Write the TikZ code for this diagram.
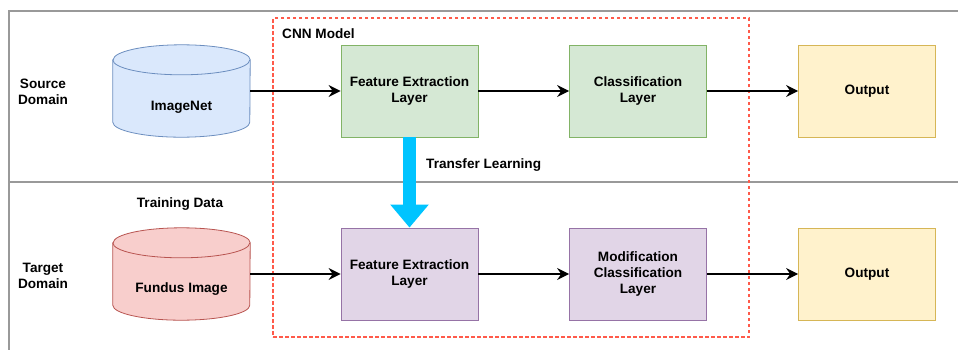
\documentclass[tikz,border=0pt]{standalone}
\usepackage{fontspec}
\setmainfont{Liberation Sans}
\usetikzlibrary{arrows.meta,calc}

\definecolor{blueF}{HTML}{DAE8FC}\definecolor{blueD}{HTML}{6C8EBF}
\definecolor{redF}{HTML}{F8CECC}\definecolor{redD}{HTML}{B85450}
\definecolor{greenF}{HTML}{D5E8D4}\definecolor{greenD}{HTML}{82B366}
\definecolor{purpleF}{HTML}{E1D5E7}\definecolor{purpleD}{HTML}{9673A6}
\definecolor{yellowF}{HTML}{FFF2CC}\definecolor{yellowD}{HTML}{D6B656}
\definecolor{laneD}{HTML}{999999}
\definecolor{cnnD}{HTML}{FF5A4A}
\definecolor{transfer}{HTML}{00C4FF}

% database drawn inside the rectangle of a named node
\newcommand\dbshape[3]{%
  \filldraw[fill=#2,draw=#3,line width=0.8pt]
    ($(#1.north west)+(0,15)$) -- ($(#1.south west)+(0,-15)$)
    arc[start angle=180,end angle=360,x radius=68.5pt,y radius=15pt]
    -- ($(#1.north east)+(0,15)$)
    arc[start angle=0,end angle=180,x radius=68.5pt,y radius=15pt] -- cycle;
  \draw[#3,line width=0.8pt] ($(#1.north west)+(0,15)$)
    arc[start angle=180,end angle=360,x radius=68.5pt,y radius=15pt];
}

\begin{document}
\begin{tikzpicture}[x=1pt,y=-1pt,
  font=\fontsize{13.6}{16}\selectfont\bfseries,
  box/.style={draw,line width=0.8pt,minimum width=137pt,minimum height=92pt,
    inner sep=0pt,align=center},
  dbarea/.style={minimum width=137pt,minimum height=92pt,inner sep=0pt},
  lane/.style={draw=laneD,line width=1.8pt},
  flow/.style={draw=black,line width=1.3pt,
    -{Stealth[length=12pt,width=12pt,inset=4pt]}},
  tl/.style={draw=transfer,line width=13pt,
    -{Triangle[length=23pt,width=37pt]}},
  lbl/.style={align=center,inner sep=0pt}]
\useasboundingbox (0,0) rectangle (958,349);

% swimlane frame
\coordinate (tr) at (960,11);
\coordinate (tl0) at (9,11);
\coordinate (bl) at (9,352);
\coordinate (ml) at (9,182);
\coordinate (mr) at (960,182);
\draw[lane] (tr) -- (tl0) -- (bl);
\draw[lane] (ml) -- (mr);

% lane titles
\node[lbl] (src) at (43,92) {Source\\Domain};
\node[lbl] (tgt) at (43,276) {Target\\Domain};
\node[lbl] (train) at (180,204) {Training Data};

% CNN model group
\node[draw=cnnD,dash pattern=on 3.5pt off 2.5pt,line width=1.3pt,
  minimum width=476pt,minimum height=319pt,inner sep=0pt] (cnn) at (511,177.5) {};
\node[lbl,anchor=west] (cnnlbl) at (282,34) {CNN Model};

% databases
\node[dbarea] (imgnet) at (181.5,91) {};
\dbshape{imgnet}{blueF}{blueD}
\node[lbl] at ($(imgnet.center)+(0,16)$) {ImageNet};
\node[dbarea] (fundus) at (181.5,274) {};
\dbshape{fundus}{redF}{redD}
\node[lbl] at ($(fundus.center)+(0,15)$) {Fundus Image};

% layers
\node[box,fill=greenF,draw=greenD] (fe1) at (409.5,91) {Feature Extraction\\Layer};
\node[box,fill=greenF,draw=greenD] (cl1) at (638,91) {Classification\\Layer};
\node[box,fill=yellowF,draw=yellowD] (out1) at (867,91) {Output};
\node[box,fill=purpleF,draw=purpleD] (fe2) at (409.5,274) {Feature Extraction\\Layer};
\node[box,fill=purpleF,draw=purpleD] (cl2) at (638,274) {Modification\\Classification\\Layer};
\node[box,fill=yellowF,draw=yellowD] (out2) at (867,274) {Output};

% connectors
\draw[flow] (imgnet.east) -- (fe1.west);
\draw[flow] (fe1.east) -- (cl1.west);
\draw[flow] (cl1.east) -- (out1.west);
\draw[flow] (fundus.east) -- (fe2.west);
\draw[flow] (fe2.east) -- (cl2.west);
\draw[flow] (cl2.east) -- (out2.west);

% transfer learning
\draw[tl] (fe1.south) -- (fe2.north);
\node[lbl,anchor=west] (tlbl) at (426,165) {Transfer Learning};
\end{tikzpicture}
\end{document}
